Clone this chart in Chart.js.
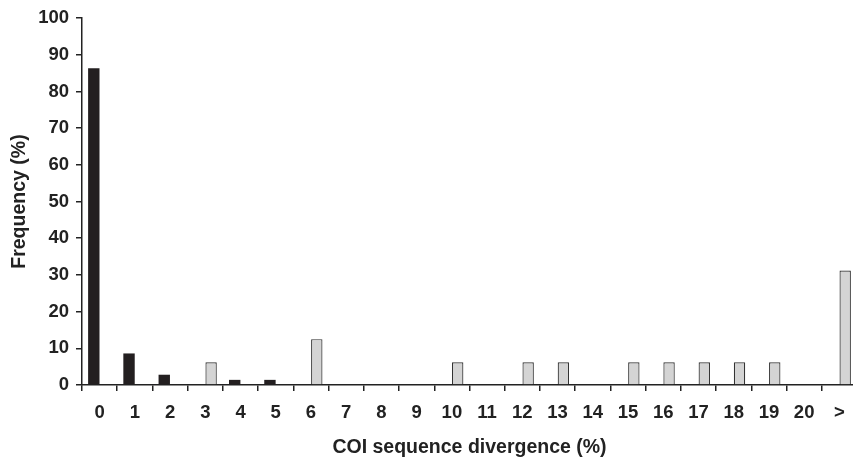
<!DOCTYPE html>
<html>
<head>
<meta charset="utf-8">
<script src="https://cdn.jsdelivr.net/npm/chart.js@4"></script>
<style>
  html, body { margin: 0; padding: 0; background: #fff; overflow: hidden; }
  #wrap { width: 860px; height: 460px; }
</style>
</head>
<body>
<div id="wrap"><canvas id="divergenceChart" width="860" height="460"></canvas></div>
<script>
// COI sequence divergence histogram

const categories = ['0', '1', '2', '3', '4', '5', '6', '7', '8', '9', '10',
    '11', '12', '13', '14', '15', '16', '17', '18', '19', '20', '>'];

// black bars (within species)
const intraValues = [86.3, 8.6, 2.8, null, 1.4, 1.4, null, null, null, null, null,
    null, null, null, null, null, null, null, null, null, null, null];

// grey bars (between species)
const interValues = [null, null, null, 6.2, null, null, 12.5, null, null, null, 6.2,
    null, 6.2, 6.2, null, 6.2, 6.2, 6.2, 6.2, 6.2, null, 31.2];

const yTicks = [0, 10, 20, 30, 40, 50, 60, 70, 80, 90, 100];

const ink = '#222222';
const tickFont = { family: 'Liberation Sans, Arial, sans-serif', size: 18.5, weight: 'bold' };
const titleFont = { family: 'Liberation Sans, Arial, sans-serif', size: 19.5, weight: 'bold' };

const ctx = document.getElementById('divergenceChart').getContext('2d');
new Chart(ctx, {
    type: 'bar',
    data: {
        labels: categories,
        datasets: [{
            label: 'Intraspecific',
            data: intraValues,
            backgroundColor: '#231f20',
            borderWidth: 0,
            categoryPercentage: 0.66,
            barPercentage: 0.98
        }, {
            label: 'Interspecific',
            data: interValues,
            backgroundColor: '#d4d4d4',
            borderColor: '#333333',
            borderWidth: 1.2,
            categoryPercentage: 0.66,
            barPercentage: 0.98
        }]
    },
    options: {
        responsive: false,
        animation: false,
        layout: { padding: { top: 14, right: 3, left: 0, bottom: 0 } },
        plugins: {
            legend: { display: false },
            tooltip: { enabled: false }
        },
        scales: {
            x: {
                grid: { offset: true, drawOnChartArea: false, tickLength: 6, color: ink, lineWidth: 1.5 },
                border: { color: ink, width: 1.5 },
                ticks: { color: ink, font: tickFont, padding: 11, maxRotation: 0, autoSkip: false },
                title: {
                    display: true,
                    text: 'COI sequence divergence (%)',
                    color: ink,
                    font: titleFont,
                    padding: { top: 0, bottom: 1 }
                },
                afterFit: function (scale) { scale.height = 75; }
            },
            y: {
                min: 0,
                max: 100,
                afterBuildTicks: function (scale) {
                    scale.ticks = yTicks.map(v => ({ value: v }));
                },
                grid: { drawOnChartArea: false, tickLength: 6, color: ink, lineWidth: 1.5 },
                border: { color: ink, width: 1.5 },
                ticks: { color: ink, font: tickFont, padding: 7 },
                title: {
                    display: true,
                    text: 'Frequency (%)',
                    color: ink,
                    font: titleFont,
                    padding: { top: 8, bottom: 0 }
                },
                afterFit: function (scale) { scale.width = 82; }
            }
        }
    }
});
</script>
</body>
</html>
